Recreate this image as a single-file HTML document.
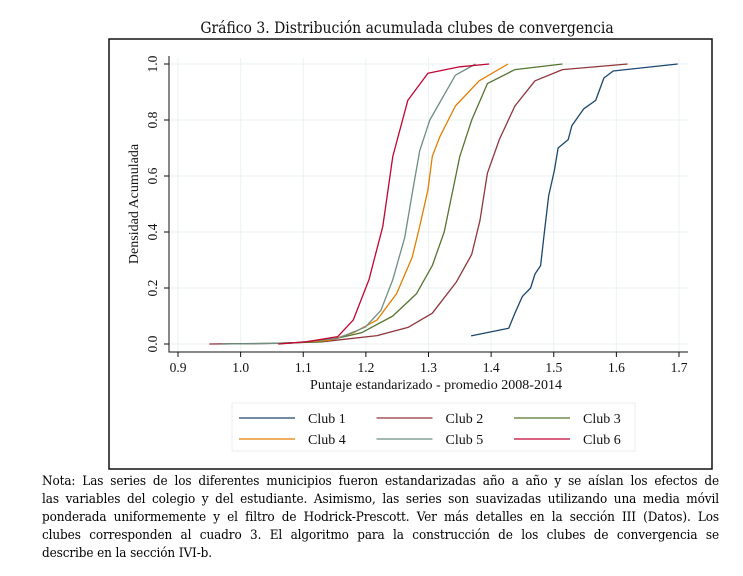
<!DOCTYPE html>
<html><head><meta charset="utf-8"><style>
body{margin:0;background:#fff;width:743px;height:576px;overflow:hidden}
.note{position:absolute;left:42px;top:473px;width:677px;font-family:"DejaVu Serif Condensed","DejaVu Serif",serif;font-stretch:condensed;font-size:13.4px;letter-spacing:-0.1px;line-height:18px;color:#000}
.note .l{text-align:justify;text-align-last:justify;white-space:normal}
.note .last{text-align:left}
</style></head><body>
<svg id="chart" width="743" height="470" style="position:absolute;left:0;top:0" font-family="Liberation Serif, serif">
<text x="407" y="33" text-anchor="middle" font-size="15.5" fill="#111" font-family="DejaVu Serif Condensed, DejaVu Serif, serif" font-stretch="condensed">Gráfico 3. Distribución acumulada clubes de convergencia</text>
<rect x="109" y="39" width="603" height="430" fill="#fff" stroke="#111" stroke-width="1.5"/>
<g id="grid"></g><g id="axes"></g><g id="series"></g>
<text x="436" y="389" text-anchor="middle" font-size="14" fill="#111">Puntaje estandarizado - promedio 2008-2014</text>
<text transform="translate(138,204) rotate(-90)" text-anchor="middle" font-size="14" fill="#111">Densidad Acumulada</text>
<rect x="232" y="403" width="403" height="48" fill="#fff" stroke="#eee"/>
<g id="legend"></g>
</svg>
<div class="note">
<div class="l">Nota: Las series de los diferentes municipios fueron estandarizadas año a año y se aíslan los efectos de</div>
<div class="l">las variables del colegio y del estudiante. Asimismo, las series son suavizadas utilizando una media móvil</div>
<div class="l">ponderada uniformemente y el filtro de Hodrick-Prescott. Ver más detalles en la sección III (Datos). Los</div>
<div class="l">clubes corresponden al cuadro 3. El algoritmo para la construcción de los clubes de convergencia se</div>
<div class="last">describe en la sección IVI-b.</div>
</div>
<script>
const xTicks=[0.9,1.0,1.1,1.2,1.3,1.4,1.5,1.6,1.7];
const yTicks=[0,0.2,0.4,0.6,0.8,1.0];
const seriesNames=["Club 1","Club 2","Club 3","Club 4","Club 5","Club 6"];
const club1X=[1.368,1.428,1.438,1.45,1.463,1.47,1.479,1.485,1.492,1.501,1.507,1.523,1.529,1.548,1.567,1.58,1.595,1.698];
const club1Y=[0.029,0.056,0.11,0.17,0.2,0.25,0.28,0.4,0.53,0.62,0.7,0.73,0.78,0.84,0.87,0.95,0.975,1.0];
const club2X=[0.95,1.05,1.13,1.218,1.268,1.306,1.344,1.369,1.382,1.394,1.413,1.438,1.47,1.514,1.618];
const club2Y=[0,0.002,0.008,0.03,0.06,0.11,0.22,0.32,0.44,0.61,0.73,0.85,0.94,0.98,1.0];
const club3X=[0.97,1.05,1.13,1.193,1.243,1.281,1.306,1.325,1.338,1.35,1.369,1.394,1.438,1.514];
const club3Y=[0,0.002,0.008,0.04,0.1,0.18,0.28,0.4,0.54,0.67,0.8,0.93,0.98,1.0];
const club4X=[1.06,1.143,1.18,1.218,1.249,1.274,1.286,1.299,1.306,1.318,1.343,1.381,1.427];
const club4Y=[0,0.014,0.04,0.086,0.18,0.31,0.42,0.55,0.67,0.74,0.85,0.94,1.0];
const club5X=[0.97,1.08,1.155,1.199,1.224,1.243,1.262,1.275,1.286,1.302,1.343,1.375];
const club5Y=[0,0.003,0.02,0.06,0.12,0.23,0.38,0.55,0.69,0.8,0.96,1.0];
const club6X=[1.06,1.105,1.155,1.18,1.205,1.227,1.243,1.267,1.299,1.35,1.397];
const club6Y=[0,0.008,0.026,0.086,0.23,0.42,0.67,0.87,0.967,0.99,1.0];
const colors=["#1a476f","#90353b","#55752f","#e37e00","#6e8e84","#c10534"];
const allX=[club1X,club2X,club3X,club4X,club5X,club6X];
const allY=[club1Y,club2Y,club3Y,club4Y,club5Y,club6Y];
const NS="http://www.w3.org/2000/svg";
const sx=v=>178+(v-0.9)*626.25;
const sy=p=>344-p*280;
function mk(tag,parent,attrs){const e=document.createElementNS(NS,tag);for(const k in attrs)e.setAttribute(k,attrs[k]);document.getElementById(parent).appendChild(e);return e;}
xTicks.forEach(t=>{
 const g=mk("line","grid",{x1:sx(t),x2:sx(t),y1:58,y2:352,stroke:"#eaf2f3","stroke-width":1});
 
 
 const tk=mk("line","axes",{x1:sx(t),x2:sx(t),y1:352,y2:357,stroke:"#111"});
 
 
 const tx=mk("text","axes",{x:sx(t),y:372,"text-anchor":"middle","font-size":"13.5",fill:"#111"});
 tx.textContent=t.toFixed(1);
 
 
});
yTicks.forEach(t=>{
 const g=mk("line","grid",{x1:169,x2:688,y1:sy(t),y2:sy(t),stroke:"#eaf2f3","stroke-width":1});
 
 
 const tk=mk("line","axes",{x1:164,x2:169,y1:sy(t),y2:sy(t),stroke:"#111"});
 
 
 const tx=mk("text","axes",{transform:`translate(157,${sy(t)}) rotate(-90)`,"text-anchor":"middle","font-size":"13.5",fill:"#111"});
 tx.textContent=t.toFixed(1);
 
 
});
const ax=mk("path","axes",{d:"M169 56 V352 H688",fill:"none",stroke:"#111","stroke-width":1});


allX.forEach((xs,i)=>{
 const d=xs.map((v,j)=>(j?"L":"M")+sx(v).toFixed(1)+" "+sy(allY[i][j]).toFixed(1)).join(" ");
 const p=mk("path","series",{d:d,fill:"none",stroke:colors[i],"stroke-width":1.3,"stroke-linejoin":"round"});
 
 
});
seriesNames.forEach((n,i)=>{
 const c=i%3,r=Math.floor(i/3);
 const lx=239+c*137.5,ly=418+r*21;
 const l=mk("line","legend",{x1:lx,x2:lx+56,y1:ly,y2:ly,stroke:colors[i],"stroke-width":1.3});
 
 
 const t=mk("text","legend",{x:lx+69,y:ly+5,"font-size":"14",fill:"#111"});
 t.textContent=n;
 
 
});
</script>
</body></html>
